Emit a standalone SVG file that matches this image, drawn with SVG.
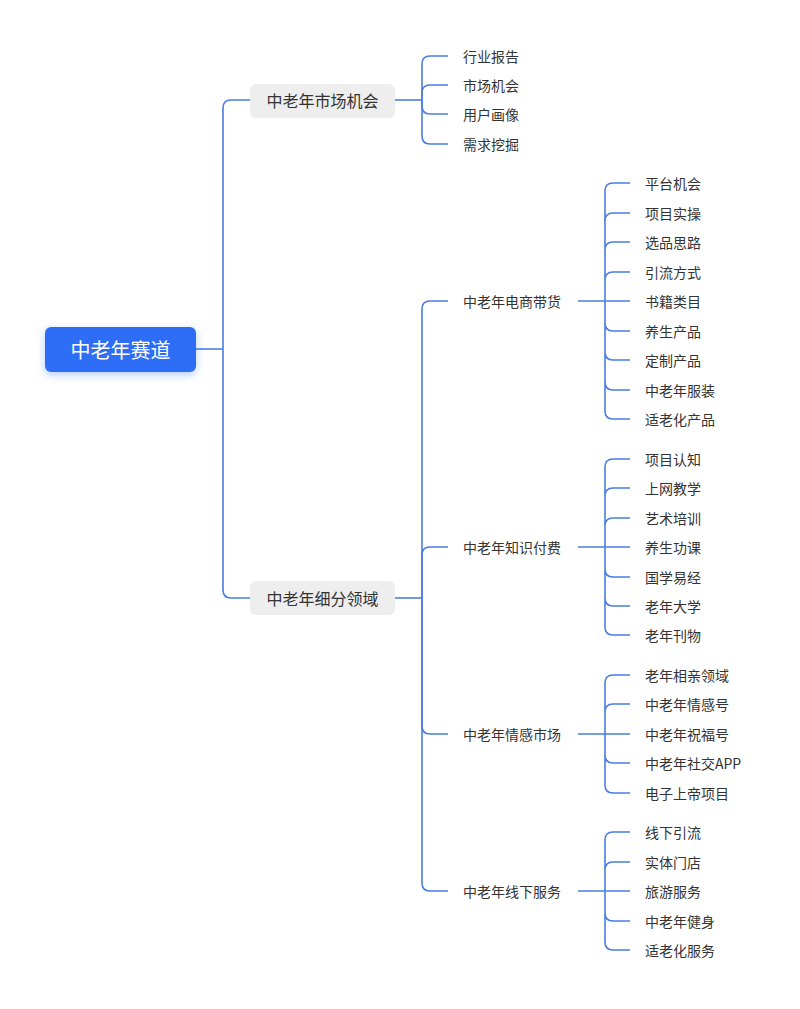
<svg xmlns="http://www.w3.org/2000/svg" width="800" height="1009" viewBox="0 0 800 1009">
<defs>
<style>
.c{fill:none;stroke:#4a7ee0;stroke-width:1.6}
.t{font-family:"Noto Sans CJK SC","Noto Sans",sans-serif;font-size:14px;fill:#333;dominant-baseline:central}
.t1{font-family:"Noto Sans CJK SC","Noto Sans",sans-serif;font-size:16px;fill:#333;dominant-baseline:central;text-anchor:middle}
.b1{fill:#eeeeee}
</style>
<filter id="sh" x="-30%" y="-50%" width="160%" height="200%"><feDropShadow dx="0" dy="3" stdDeviation="4" flood-color="#2f6ef6" flood-opacity="0.35"/></filter>
</defs>
<rect width="800" height="1009" fill="#fff"/>
<g id="connectors">
<path class="c" d="M196 349 H223"/>
<path class="c" d="M223 349 V108 Q223 100 231 100 H250"/>
<path class="c" d="M223 349 V590 Q223 598 231 598 H250"/>
<path class="c" d="M395 100 H422"/>
<path class="c" d="M422 100 V64 Q422 56 430 56 H448"/>
<path class="c" d="M422 100 V93 Q422 85 430 85 H448"/>
<path class="c" d="M422 100 V106 Q422 114 430 114 H448"/>
<path class="c" d="M422 100 V136 Q422 144 430 144 H448"/>
<path class="c" d="M395 598 H422"/>
<path class="c" d="M422 598 V309 Q422 301 430 301 H448"/>
<path class="c" d="M422 598 V555 Q422 547 430 547 H448"/>
<path class="c" d="M422 598 V726 Q422 734 430 734 H448"/>
<path class="c" d="M422 598 V883 Q422 891 430 891 H448"/>
<path class="c" d="M578 301 H605 M605 301 V191 Q605 183 613 183 H630 M605 301 V221 Q605 213 613 213 H630 M605 301 V250 Q605 242 613 242 H630 M605 301 V280 Q605 272 613 272 H630 M605 301 H630 M605 301 V323 Q605 331 613 331 H630 M605 301 V352 Q605 360 613 360 H630 M605 301 V382 Q605 390 613 390 H630 M605 301 V411 Q605 419 613 419 H630"/>
<path class="c" d="M578 547 H605 M605 547 V467 Q605 459 613 459 H630 M605 547 V496 Q605 488 613 488 H630 M605 547 V526 Q605 518 613 518 H630 M605 547 H630 M605 547 V569 Q605 577 613 577 H630 M605 547 V598 Q605 606 613 606 H630 M605 547 V627 Q605 635 613 635 H630"/>
<path class="c" d="M578 734 H605 M605 734 V683 Q605 675 613 675 H630 M605 734 V712 Q605 704 613 704 H630 M605 734 H630 M605 734 V755 Q605 763 613 763 H630 M605 734 V785 Q605 793 613 793 H630"/>
<path class="c" d="M578 891 H605 M605 891 V840 Q605 832 613 832 H630 M605 891 V870 Q605 862 613 862 H630 M605 891 H630 M605 891 V913 Q605 921 613 921 H630 M605 891 V942 Q605 950 613 950 H630"/>
</g>
<g id="root"><rect x="45" y="327" width="151" height="45" rx="6" fill="#2f6ef6" filter="url(#sh)"/><text x="120.5" y="349" font-family="Noto Sans CJK SC,sans-serif" font-size="20" fill="#fff" text-anchor="middle" dominant-baseline="central">中老年赛道</text></g>
<g id="n1"><rect class="b1" x="250" y="84" width="145" height="34" rx="6"/><text class="t1" x="322.5" y="100">中老年市场机会</text></g>
<g id="n2"><rect class="b1" x="250" y="581" width="145" height="34" rx="6"/><text class="t1" x="322.5" y="598">中老年细分领域</text></g>
<g id="leaves1">
<text class="t" x="463" y="56">行业报告</text>
<text class="t" x="463" y="85">市场机会</text>
<text class="t" x="463" y="114">用户画像</text>
<text class="t" x="463" y="144">需求挖掘</text>
</g>
<g id="level2">
<text class="t" x="463" y="301">中老年电商带货</text>
<text class="t" x="463" y="547">中老年知识付费</text>
<text class="t" x="463" y="734">中老年情感市场</text>
<text class="t" x="463" y="891">中老年线下服务</text>
</g>
<g id="leaves2">
<text class="t" x="645" y="183">平台机会</text>
<text class="t" x="645" y="213">项目实操</text>
<text class="t" x="645" y="242">选品思路</text>
<text class="t" x="645" y="272">引流方式</text>
<text class="t" x="645" y="301">书籍类目</text>
<text class="t" x="645" y="331">养生产品</text>
<text class="t" x="645" y="360">定制产品</text>
<text class="t" x="645" y="390">中老年服装</text>
<text class="t" x="645" y="419">适老化产品</text>
<text class="t" x="645" y="459">项目认知</text>
<text class="t" x="645" y="488">上网教学</text>
<text class="t" x="645" y="518">艺术培训</text>
<text class="t" x="645" y="547">养生功课</text>
<text class="t" x="645" y="577">国学易经</text>
<text class="t" x="645" y="606">老年大学</text>
<text class="t" x="645" y="635">老年刊物</text>
<text class="t" x="645" y="675">老年相亲领域</text>
<text class="t" x="645" y="704">中老年情感号</text>
<text class="t" x="645" y="734">中老年祝福号</text>
<text class="t" x="645" y="763">中老年社交APP</text>
<text class="t" x="645" y="793">电子上帝项目</text>
<text class="t" x="645" y="832">线下引流</text>
<text class="t" x="645" y="862">实体门店</text>
<text class="t" x="645" y="891">旅游服务</text>
<text class="t" x="645" y="921">中老年健身</text>
<text class="t" x="645" y="950">适老化服务</text>
</g>
</svg>
